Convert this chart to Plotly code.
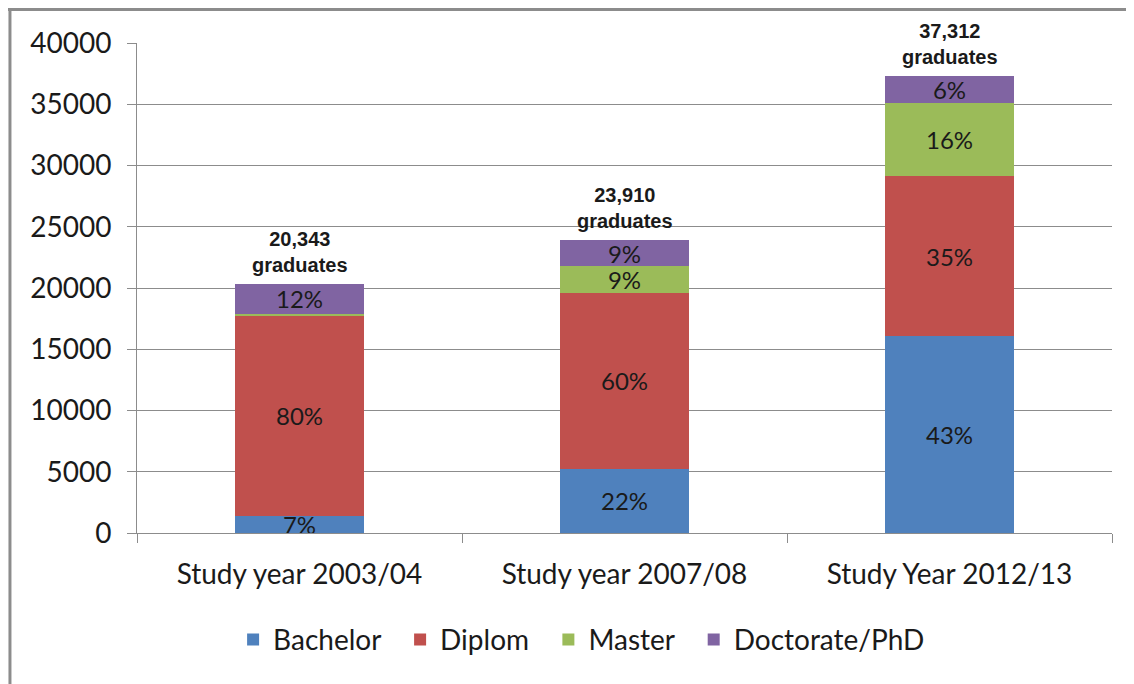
import plotly.graph_objects as go

categories = ["Study year 2003/04", "Study year 2007/08", "Study Year 2012/13"]
series_names = ["Bachelor", "Diplom", "Master", "Doctorate/PhD"]
bachelor = [1424, 5260, 16044]
diplom = [16274, 14346, 13059]
master = [204, 2152, 5970]
doctorate = [2441, 2152, 2239]
bachelor_pct = ["7%", "22%", "43%"]
diplom_pct = ["80%", "60%", "35%"]
master_pct = ["", "9%", "16%"]
doctorate_pct = ["12%", "9%", "6%"]
totals = [20343, 23910, 37312]
colors = ["#4F81BD", "#C0504D", "#9BBB59", "#8064A2"]

FONT = "Lato"
TXT = "#1a1a1a"
FS = 28
PAD = "\u00a0\u00a0"

fig = go.Figure()
for i, (name, vals, pct, col) in enumerate(zip(series_names,
                                [bachelor, diplom, master, doctorate],
                                [bachelor_pct, diplom_pct, master_pct, doctorate_pct],
                                colors)):
    fig.add_trace(go.Bar(
        name=name + (PAD if i < len(series_names) - 1 else ""),
        x=categories, y=vals, marker=dict(color=col, line=dict(width=0)),
        text=pct, textposition="inside", insidetextanchor="middle",
        textfont=dict(family=FONT, size=24, color=TXT), constraintext="none",
    ))

for cat, tot in zip(categories, totals):
    fig.add_annotation(x=cat, y=tot, text=f"<b>{tot:,}<br>graduates</b>", showarrow=False,
                       yanchor="bottom", yshift=6,
                       font=dict(family="Liberation Sans", size=20, color=TXT))

# chart frame (left and top edges visible)
fig.add_shape(type="line", xref="paper", yref="paper", x0=-0.1303, x1=-0.1303, y0=1.0684, y1=-0.4,
              line=dict(color="#8c8c8c", width=3))
fig.add_shape(type="line", xref="paper", yref="paper", x0=-0.1323, x1=1.05, y0=1.0684, y1=1.0684,
              line=dict(color="#8c8c8c", width=3))

fig.update_layout(
    barmode="stack", bargap=0.606, width=1126, height=676,
    margin=dict(l=129, r=22, t=35, b=151),
    paper_bgcolor="white", plot_bgcolor="white",
    font=dict(family=FONT, size=FS, color=TXT),
    uniformtext=dict(minsize=24, mode="show"),
    showlegend=True,
    legend=dict(orientation="h", x=0.456, xanchor="center", y=-0.218, yanchor="middle",
                font=dict(family=FONT, size=FS, color=TXT), itemwidth=30, traceorder="normal"),
    yaxis=dict(range=[0, 40000], dtick=5000, showgrid=True, gridcolor="#8c8c8c", gridwidth=1,
               showline=True, linecolor="#8c8c8c", ticks="outside", ticklen=9, tickcolor="#8c8c8c",
               tickformat="d", zeroline=False, ticklabelstandoff=10,
               tickfont=dict(family=FONT, size=FS, color=TXT)),
    xaxis=dict(showline=True, linecolor="#8c8c8c", ticks="outside", ticklen=9, tickcolor="#8c8c8c",
               tickson="boundaries", ticklabelstandoff=16,
               tickfont=dict(family=FONT, size=FS, color=TXT)),
)

fig.write_html("out.html")
